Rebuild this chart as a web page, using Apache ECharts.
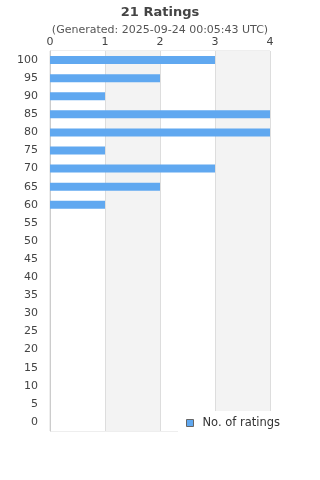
<!DOCTYPE html>
<html><head><meta charset="utf-8">
<script src="https://cdn.jsdelivr.net/npm/echarts@6/dist/echarts.min.js"></script>
<style>html,body{margin:0;padding:0;background:#fff}#c{width:320px;height:480px}</style>
</head><body><div id="c"></div>
<script>
var categories = ['0','5','10','15','20','25','30','35','40','45','50','55','60','65','70','75','80','85','90','95','100'];
var counts = [0,0,0,0,0,0,0,0,0,0,0,0,1,2,3,1,4,4,1,2,3];
var xTicks = [0,1,2,3,4];
var titleText = '21 Ratings';
var subText = '(Generated: 2025-09-24 00:05:43 UTC)';
var seriesName = 'No. of ratings';

var chart = echarts.init(document.getElementById('c'), null, {renderer:'canvas'});
chart.setOption({
  animation:false,
  title:{text:titleText, subtext:subText, left:'center', top:1, itemGap:6,
    textStyle:{fontSize:13,fontWeight:'bold',color:'#444',fontFamily:'DejaVu Sans'},
    subtextStyle:{fontSize:11,color:'#555',fontFamily:'DejaVu Sans'}},
  grid:{left:50,right:50,top:51,bottom:49,show:true,borderColor:'#ddd',borderWidth:1,backgroundColor:'transparent'},
  xAxis:{type:'value',position:'top',min:xTicks[0],max:xTicks[xTicks.length-1],interval:1,
    axisLine:{show:false},axisTick:{show:false},
    axisLabel:{margin:3,fontSize:11,color:'#444',fontFamily:'DejaVu Sans'},
    splitLine:{show:true,lineStyle:{color:'#ddd'}},
    splitArea:{show:true,areaStyle:{color:['#ffffff','#f3f3f3']}}},
  yAxis:{type:'category',data:categories,
    axisLine:{show:true,lineStyle:{color:'#ccc'}},axisTick:{show:false},
    axisLabel:{fontSize:11,color:'#444',margin:12,fontFamily:'DejaVu Sans'},
    splitLine:{show:false}},
  legend:{data:[seriesName],left:178,top:411,backgroundColor:'#fff',padding:[6,10,6,8],
    itemWidth:7,itemHeight:7,itemGap:10,
    itemStyle:{borderColor:'#666',borderWidth:1},
    textStyle:{fontSize:11.5,color:'#333',fontFamily:'DejaVu Sans',padding:[0,0,0,4]},
    icon:'rect'},
  series:[{name:seriesName,type:'bar',data:counts,barWidth:8,
    itemStyle:{color:'#60a8f0',borderWidth:0},
    emphasis:{disabled:true}}]
});
</script></body></html>
